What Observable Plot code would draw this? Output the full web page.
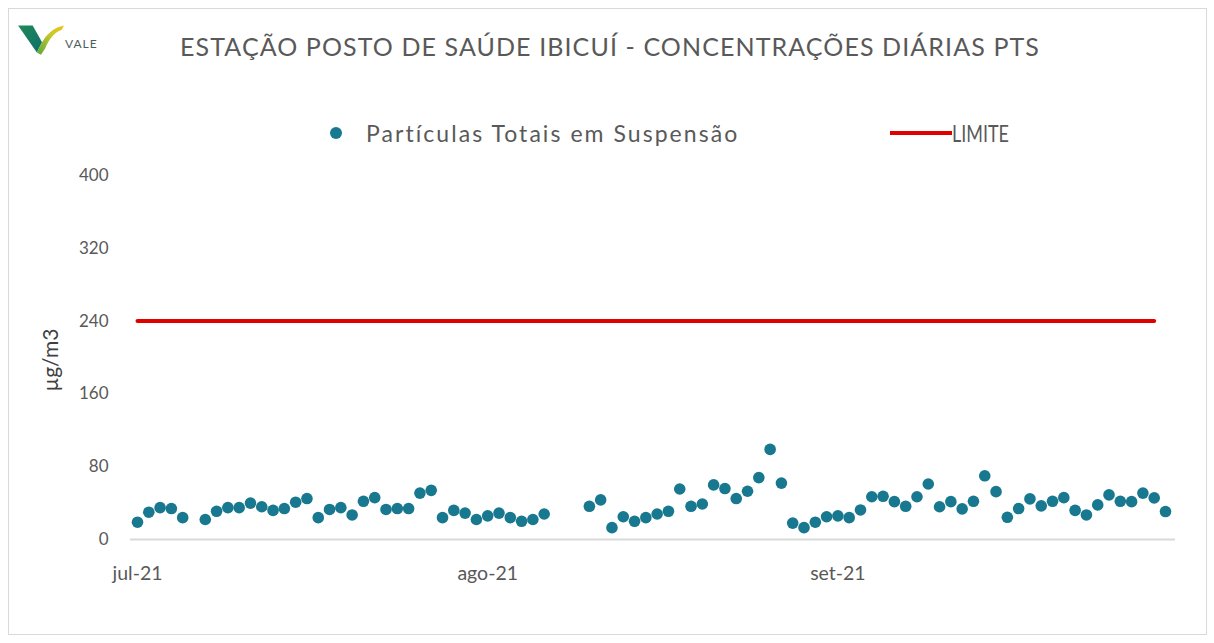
<!DOCTYPE html>
<html><head><meta charset="utf-8">
<script src="https://cdn.jsdelivr.net/npm/d3@7"></script>
<script src="https://cdn.jsdelivr.net/npm/@observablehq/plot@0.6"></script>
<style>
body{margin:0;background:#fff;font-family:Lato,"Open Sans",sans-serif;}
#wrap{position:relative;width:1214px;height:643px;overflow:hidden;background:#fff;}
#frame{position:absolute;left:8px;top:8px;width:1199px;height:627px;border:1px solid #d9d9d9;box-sizing:border-box;}
#title{position:absolute;left:180px;top:31px;font-size:25px;letter-spacing:1.1px;color:#595959;white-space:nowrap;}
.leg{position:absolute;color:#595959;white-space:nowrap;line-height:28px;}
#leg1{font-size:23px;letter-spacing:2.05px;}
#leg2{font-size:23px;transform:scaleX(0.78);transform-origin:left center;}
#ylab{position:absolute;left:50px;top:360px;transform:translate(-50%,-50%) rotate(-90deg);font-size:21px;color:#404040;white-space:nowrap;line-height:24px;}
#chart{position:absolute;left:0;top:160px;}
#logo{position:absolute;left:16px;top:19px;}
#logotext{position:absolute;left:65px;top:36px;font-size:12px;color:#4d5e5e;letter-spacing:1px;}
</style></head>
<body>
<div id="wrap">
  <div id="frame"></div>
  <svg id="logo" width="50" height="38" viewBox="0 0 48 36">
    <defs>
      <linearGradient id="gL" x1="0" y1="0" x2="1" y2="1">
        <stop offset="0" stop-color="#1f8a5a"/><stop offset="1" stop-color="#0f6e6a"/>
      </linearGradient>
      <linearGradient id="gR" x1="0" y1="1" x2="1" y2="0">
        <stop offset="0" stop-color="#5aa83a"/><stop offset="0.6" stop-color="#c8c82a"/><stop offset="1" stop-color="#f2c21b"/>
      </linearGradient>
    </defs>
    <path d="M2 6 L16 6 L25 22 L20 32 Z" fill="url(#gL)"/>
    <path d="M20 32 L25 22 C30 14 36 8 46 6 L44 10 C38 12 32 18 28 28 L24 34 Z" fill="url(#gR)"/>
  </svg>
  <div id="logotext">VALE</div>
  <div id="title">ESTAÇÃO POSTO DE SAÚDE IBICUÍ - CONCENTRAÇÕES DIÁRIAS PTS</div>
  <svg style="position:absolute;left:328px;top:125px" width="16" height="16"><circle cx="8" cy="8" r="6" fill="#18788f"/></svg>
  <div class="leg" id="leg1" style="left:366px;top:119px;"></div>
  <svg style="position:absolute;left:890px;top:131px" width="62" height="5"><rect x="0" y="0" width="62" height="4" fill="#e00000"/></svg>
  <div class="leg" id="leg2" style="left:952px;top:119px;"></div>
  <div id="ylab"></div>
  <div id="chart"></div>
</div>
<script>
// ---- data ----
const seriesName = "Partículas Totais em Suspensão";
const limitName = "LIMITE";
const yLabel = "µg/m3";
const dates = [
 "2021-07-01","2021-07-02","2021-07-03","2021-07-04","2021-07-05","2021-07-06","2021-07-07","2021-07-08","2021-07-09","2021-07-10",
 "2021-07-11","2021-07-12","2021-07-13","2021-07-14","2021-07-15","2021-07-16","2021-07-17","2021-07-18","2021-07-19","2021-07-20",
 "2021-07-21","2021-07-22","2021-07-23","2021-07-24","2021-07-25","2021-07-26","2021-07-27","2021-07-28","2021-07-29","2021-07-30","2021-07-31",
 "2021-08-01","2021-08-02","2021-08-03","2021-08-04","2021-08-05","2021-08-06","2021-08-07","2021-08-08","2021-08-09","2021-08-10",
 "2021-08-11","2021-08-12","2021-08-13","2021-08-14","2021-08-15","2021-08-16","2021-08-17","2021-08-18","2021-08-19","2021-08-20",
 "2021-08-21","2021-08-22","2021-08-23","2021-08-24","2021-08-25","2021-08-26","2021-08-27","2021-08-28","2021-08-29","2021-08-30","2021-08-31",
 "2021-09-01","2021-09-02","2021-09-03","2021-09-04","2021-09-05","2021-09-06","2021-09-07","2021-09-08","2021-09-09","2021-09-10",
 "2021-09-11","2021-09-12","2021-09-13","2021-09-14","2021-09-15","2021-09-16","2021-09-17","2021-09-18","2021-09-19","2021-09-20",
 "2021-09-21","2021-09-22","2021-09-23","2021-09-24","2021-09-25","2021-09-26","2021-09-27","2021-09-28","2021-09-29","2021-09-30"
];
const pts = [
 19,30,35,34,24,null,22,31,35,35,
 40,36,32,34,41,45,24,33,35,27,
 42,46,33,34,34,51,54,24,32,29,22,
 26,29,24,20,22,28,null,null,null,36.5,
 43.5,13,25,20,24,28,31,55.5,36.5,39,
 60,56,45,53,68,99,62,18,13,19,25,
 26,24,32.5,47,47.5,41.6,36.5,47,61,36,
 41.6,33.6,42,70,52.6,24.4,34,44.6,37,42,
 46,32,27,38,49,42,41.6,51,45.7,30.7
];
const limitValue = 240;
const limitStart = "2021-07-01";
const limitEnd = "2021-09-29";
const yTicks = [0, 80, 160, 240, 320, 400];
const xTickDates = ["2021-07-01", "2021-08-01", "2021-09-01"];
const xTickLabels = ["jul-21", "ago-21", "set-21"];

// ---- build ----
const parse = d3.utcParse("%Y-%m-%d");
const data = dates.map((d, i) => ({date: parse(d), v: pts[i]})).filter(d => d.v != null);
const limitData = [{date: parse(limitStart), v: limitValue}, {date: parse(limitEnd), v: limitValue}];
const tickMap = new Map(xTickDates.map((d, i) => [+parse(d), xTickLabels[i]]));

document.getElementById("leg1").textContent = seriesName;
document.getElementById("leg2").textContent = limitName;
document.getElementById("ylab").textContent = yLabel;

const chart = Plot.plot({
  width: 1214,
  height: 430,
  marginTop: 15,
  marginBottom: 51,
  marginLeft: 130,
  marginRight: 39,
  style: {fontFamily: "Lato, 'Open Sans', sans-serif", background: "transparent", color: "#595959"},
  x: {type: "utc", domain: [parse(dates[0]), parse(dates[dates.length - 1])], insetLeft: 7, insetRight: 10},
  y: {domain: [0, 400]},
  marks: [
    Plot.axisY({ticks: yTicks, tickSize: 0, tickPadding: 22, label: null, fontSize: 17, fill: "#595959"}),
    Plot.axisX({ticks: xTickDates.map(parse), tickFormat: d => tickMap.get(+d), tickSize: 0, tickPadding: 27, label: null, fontSize: 19.5, fill: "#595959", style: {letterSpacing: "1.4px"}}),
    Plot.ruleY([0], {stroke: "#d9d9d9", strokeWidth: 2}),
    Plot.line(limitData, {x: "date", y: "v", stroke: "#e00000", strokeWidth: 4}),
    Plot.dot(data, {x: "date", y: "v", r: 5.8, fill: "#18788f", stroke: "none"})
  ]
});
document.getElementById("chart").appendChild(chart);
</script>
</body></html>
